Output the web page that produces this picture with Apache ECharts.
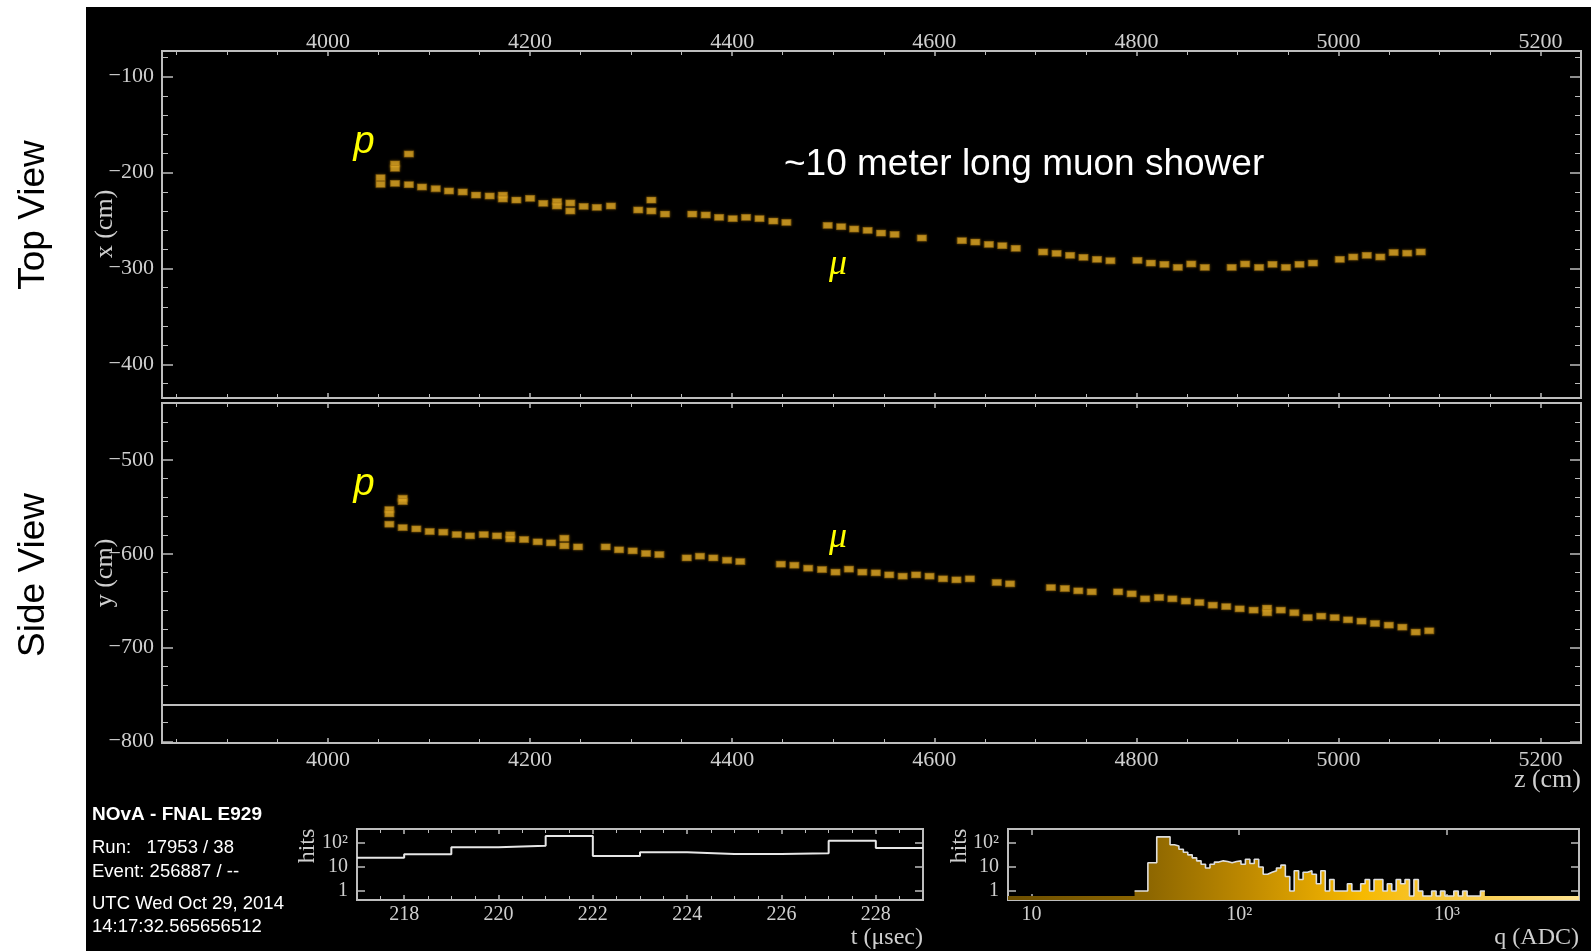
<!DOCTYPE html>
<html>
<head>
<meta charset="utf-8">
<title>NOvA event display</title>
<script src="https://cdn.jsdelivr.net/npm/echarts@6/dist/echarts.min.js"></script>
<style>
  html, body { margin: 0; padding: 0; background: #fff; }
  #panel { position: absolute; left: 86px; top: 7px; width: 1505px; height: 944px; background: #000; }
  #chart { position: absolute; left: 0; top: 0; width: 1591px; height: 951px; }
</style>
</head>
<body>
<div id="panel"></div>
<div id="chart"></div>
<script>
// ---- Top view (x vs z) hits, cm ----
const topZ = [
  4052, 4052, 4066.3, 4066.3, 4066.3, 4080, 4080, 4093, 4106.6, 4119.7,
  4133.3, 4146.5, 4160, 4173, 4173, 4186.4, 4200, 4213, 4226.6, 4226.6,
  4239.8, 4239.8, 4253, 4266, 4280, 4307, 4320, 4320, 4333.5, 4360.5,
  4373.8, 4387, 4400.5, 4413.7, 4427, 4440.7, 4453.6, 4494.5, 4507.8, 4520.7,
  4534, 4547.3, 4560.7, 4587.7, 4627.3, 4640.6, 4654, 4667.3, 4680.6, 4707.7,
  4721, 4734.4, 4747.6, 4761, 4774.3, 4801, 4814.3, 4827.7, 4841, 4854.3,
  4867.7, 4894.3, 4907.6, 4921.4, 4934.7, 4948, 4961.4, 4974.7, 5001.3, 5014.6,
  5028, 5041.4, 5054.6, 5068, 5081.4
];
const topX = [
  -205.3, -212.2, -191, -195.5, -211.2, -180.6, -212.6, -215, -216.8, -219.2,
  -220.2, -223.4, -224.4, -223.4, -227.5, -228.6, -226.8, -232, -230.3, -234.8,
  -231.7, -240, -235.2, -236.2, -234.8, -239, -228.6, -240, -243.2, -243.2,
  -244.2, -246.6, -248, -246.6, -248, -250.5, -251.9, -255, -256.4, -258.8,
  -260.2, -263, -264.4, -268.2, -271, -272.4, -274.8, -276.2, -278.9, -282.8,
  -284.2, -286.2, -288.3, -290.4, -291.9, -291.5, -294.3, -295.6, -298.8, -295.3,
  -298.8, -298.8, -295.3, -298.8, -295.6, -298.8, -295.6, -294.3, -290.4, -288,
  -286.2, -288, -283.3, -284, -282.8
];

// ---- Side view (y vs z) hits, cm ----
const sideZ = [
  4060.7, 4060.7, 4060.7, 4073.9, 4073.9, 4073.9, 4087.4, 4100.6, 4114.1, 4127.4,
  4140.5, 4154.1, 4167.2, 4180.4, 4180.4, 4194, 4207.5, 4220.7, 4233.9, 4233.9,
  4247.4, 4274.8, 4288, 4301.5, 4314.7, 4327.9, 4355, 4368.1, 4381.3, 4394.9,
  4408, 4448.1, 4461.5, 4475.2, 4488.9, 4502.2, 4515.5, 4528.8, 4542.1, 4555.4,
  4568.7, 4582, 4595.3, 4608.6, 4621.9, 4635.2, 4661.8, 4675, 4715.4, 4729.2,
  4742.5, 4755.8, 4781.9, 4795.3, 4808.6, 4822.4, 4835.6, 4849, 4862.3, 4875.6,
  4888.9, 4902.2, 4916, 4929.3, 4929.3, 4942.9, 4956.3, 4969.5, 4982.9, 4996.2,
  5009.4, 5022.8, 5036.1, 5049.8, 5063.2, 5076.4, 5089.8
];
const sideY = [
  -552.9, -557.5, -568.5, -540.8, -544.4, -572.1, -573.5, -576.3, -577, -579.5,
  -580.9, -579.5, -580.9, -579.9, -584.1, -584.8, -587.3, -588.4, -583.4, -591.6,
  -592.7, -592.7, -595.8, -596.9, -599.7, -600.8, -604.4, -602.6, -604.4, -606.9,
  -608.3, -611.1, -612.2, -615.4, -616.8, -619.6, -616.4, -619.6, -620.3, -622.5,
  -623.9, -622.5, -623.9, -626.7, -627.8, -626.7, -630.6, -632, -636, -637,
  -639.5, -640.6, -640.6, -642.7, -648, -646.6, -648, -650.5, -652, -654.8,
  -656.3, -658.7, -660.1, -657.9, -662.9, -660.1, -662.9, -668, -666.5, -668,
  -670.4, -671.8, -674.3, -676.1, -678.2, -683.5, -682.1
];
const detectorEdgeY = -761;

// ---- Hit time histogram (1 µs bins) ----
const tEdges = [217, 218, 219, 220, 221, 222, 223, 224, 225, 226, 227, 228, 229];
const tCounts = [24, 34, 66, 77, 195, 29, 41, 35, 35, 37, 125, 62];

// ---- Hit charge histogram (log-spaced bins starting at 10^qLogStart ADC) ----
const qLogStart = 1.496;
const qLogStep = 0.02135;
const qCounts = [
  1, 1, 1, 15, 15, 180, 180, 180, 85, 75,
  55, 41, 32, 24, 18, 13, 9, 13, 16, 18,
  17, 15, 17, 18, 13, 21, 14, 21, 10, 5,
  6, 7, 9, 12, 4, 1, 7, 3, 6, 7,
  5, 2, 7, 1, 3, 1, 1, 1, 2, 1,
  1, 2, 3, 1, 3, 3, 1, 2, 1, 3,
  2, 3, 0, 3, 1, 0, 0, 1, 0, 1,
  0, 0, 1, 0, 1, 0, 0, 0, 1
];
const qFloor = 0.62;

// ---- Axis ranges and tick labels ----
const zRange = [3835.7, 5240];
const topXRange = [-435, -73.2];
const sideYRange = [-801.7, -439.3];
const tRange = [217, 229];
const hitsRange = [0.42, 383];
const qRange = [7.7, 4325];
const decadeLabels = ['1', '10', '10\u00b2', '10\u00b3'];

// ---- Styling ----
const SERIF = '"Liberation Serif", "DejaVu Serif", serif';
const SANS = '"Liberation Sans", Arial, sans-serif';
const FRAME = '#bdbdbd';
const LABEL = '#cfcfcf';
const HIT = '#d9a425';

const minusFmt = v => String(v).replace('-', '\u2212');
const decadeFmt = v => {
  const e = Math.log10(v);
  const k = Math.round(e);
  return Math.abs(e - k) < 1e-6 && k >= 0 && k < decadeLabels.length ? decadeLabels[k] : '';
};

function axis(o) {
  const a = {
    gridIndex: o.grid,
    type: o.log ? 'log' : 'value',
    position: o.pos,
    min: o.range[0],
    max: o.range[1],
    axisLine: { show: false },
    splitLine: { show: false },
    axisTick: { show: true, inside: true, length: o.tick || 6, lineStyle: { color: FRAME, width: 1.5 } },
    axisLabel: o.labels ? {
      show: true, color: LABEL, fontFamily: SERIF, fontSize: o.fontSize || 20,
      margin: o.margin, formatter: o.fmt, showMinLabel: false, showMaxLabel: false
    } : { show: false }
  };
  if (o.log) {
    a.logBase = 10;
    a.splitNumber = 3;
  } else {
    a.minInterval = o.step;
    a.maxInterval = o.step;
    a.minorTick = { show: true, splitNumber: o.minor, length: o.minorLen || 4, lineStyle: { color: FRAME, width: 1 } };
  }
  return a;
}

const xAxes = [
  axis({ grid: 0, pos: 'top', range: zRange, step: 200, minor: 4, tick: 5, labels: true, fontSize: 22, margin: -2, fmt: minusFmt }),
  axis({ grid: 0, pos: 'bottom', range: zRange, step: 200, minor: 4, tick: 5 }),
  axis({ grid: 1, pos: 'bottom', range: zRange, step: 200, minor: 4, tick: 5, labels: true, fontSize: 22, margin: 6, fmt: minusFmt }),
  axis({ grid: 1, pos: 'top', range: zRange, step: 200, minor: 4, tick: 5 }),
  axis({ grid: 2, pos: 'bottom', range: tRange, step: 2, minor: 4, tick: 5, labels: true, fontSize: 20, margin: 5, fmt: v => String(v) }),
  axis({ grid: 2, pos: 'top', range: tRange, step: 2, minor: 4, tick: 5 }),
  axis({ grid: 3, pos: 'bottom', range: qRange, log: true, tick: 6, labels: true, fontSize: 20, margin: 5, fmt: decadeFmt }),
  axis({ grid: 3, pos: 'top', range: qRange, log: true, tick: 6 })
];
const yAxes = [
  axis({ grid: 0, pos: 'left', range: topXRange, step: 100, minor: 5, tick: 11, minorLen: 6, labels: true, fontSize: 22, margin: 8, fmt: minusFmt }),
  axis({ grid: 0, pos: 'right', range: topXRange, step: 100, minor: 5, tick: 11, minorLen: 6 }),
  axis({ grid: 1, pos: 'left', range: sideYRange, step: 100, minor: 5, tick: 11, minorLen: 6, labels: true, fontSize: 22, margin: 8, fmt: minusFmt }),
  axis({ grid: 1, pos: 'right', range: sideYRange, step: 100, minor: 5, tick: 11, minorLen: 6 }),
  axis({ grid: 2, pos: 'left', range: hitsRange, log: true, tick: 8, labels: true, fontSize: 20, margin: 9, fmt: decadeFmt }),
  axis({ grid: 2, pos: 'right', range: hitsRange, log: true, tick: 8 }),
  axis({ grid: 3, pos: 'left', range: hitsRange, log: true, tick: 8, labels: true, fontSize: 20, margin: 9, fmt: decadeFmt }),
  axis({ grid: 3, pos: 'right', range: hitsRange, log: true, tick: 8 })
];

const frame = { show: true, borderColor: FRAME, borderWidth: 2, backgroundColor: 'transparent' };
const grids = [
  Object.assign({ left: 162, top: 51, width: 1419, height: 347 }, frame),
  Object.assign({ left: 162, top: 403, width: 1419, height: 340 }, frame),
  Object.assign({ left: 357, top: 829, width: 566, height: 71 }, frame),
  Object.assign({ left: 1008, top: 829, width: 571, height: 71 }, frame)
];

// step outlines built from bin edges and contents
const tLine = [];
tCounts.forEach((c, i) => { tLine.push([tEdges[i], c], [tEdges[i + 1], c]); });

const qLine = [];
qCounts.forEach((c, i) => {
  const lo = Math.pow(10, qLogStart + i * qLogStep);
  const hi = Math.pow(10, qLogStart + (i + 1) * qLogStep);
  const v = c > 0 ? c : qFloor;
  qLine.push([lo, v], [hi, v]);
});

// charge colour scale spanning the charge histogram frame
const qGrad = () => new echarts.graphic.LinearGradient(1008, 0, 1579, 0, [
  { offset: 0.00, color: '#6c4e00' },
  { offset: 0.25, color: '#8e6700' },
  { offset: 0.42, color: '#bf8a00' },
  { offset: 0.54, color: '#e2a600' },
  { offset: 0.62, color: '#f6b900' },
  { offset: 0.76, color: '#f8c73a' },
  { offset: 1.00, color: '#fde290' }
], true);

const hitStyle = { color: HIT, borderColor: 'rgba(150,105,12,0.7)', borderWidth: 1, shadowBlur: 3, shadowColor: 'rgba(220,160,30,0.45)' };

function txt(x, y, text, font, fill) {
  return {
    type: 'text', x: x, y: y, silent: true,
    style: { text: text, font: font, fill: fill, align: 'left', verticalAlign: 'middle', textAlign: 'left', textVerticalAlign: 'middle' }
  };
}
function ctxt(x, y, text, font, fill, rot) {
  return {
    type: 'text', x: x, y: y, rotation: rot || 0, silent: true,
    style: { text: text, font: font, fill: fill, align: 'center', verticalAlign: 'middle', textAlign: 'center', textVerticalAlign: 'middle' }
  };
}
function rtxt(x, y, text, font, fill) {
  return {
    type: 'text', x: x, y: y, silent: true,
    style: { text: text, font: font, fill: fill, align: 'right', verticalAlign: 'middle', textAlign: 'right', textVerticalAlign: 'middle' }
  };
}

const R90 = Math.PI / 2;
const graphics = [
  ctxt(34, 215, 'Top View', '37px ' + SANS, '#000', R90),
  ctxt(34, 575, 'Side View', '37px ' + SANS, '#000', R90),
  txt(784, 165, '~10 meter long muon shower', '37px ' + SANS, '#fff'),
  ctxt(364, 142, 'p', 'italic 38px ' + SANS, '#ffff00'),
  ctxt(364, 484, 'p', 'italic 38px ' + SANS, '#ffff00'),
  ctxt(838, 265, '\u03bc', 'italic 36px ' + SERIF, '#ffff00'),
  ctxt(838, 538, '\u03bc', 'italic 36px ' + SERIF, '#ffff00'),
  ctxt(105, 224, 'x (cm)', '26px ' + SERIF, LABEL, R90),
  ctxt(105, 573, 'y (cm)', '26px ' + SERIF, LABEL, R90),
  rtxt(1581, 780, 'z (cm)', '26px ' + SERIF, LABEL),
  ctxt(308, 846, 'hits', '24px ' + SERIF, LABEL, R90),
  ctxt(960, 846, 'hits', '24px ' + SERIF, LABEL, R90),
  rtxt(923, 938, 't (\u03bcsec)', '24px ' + SERIF, LABEL),
  rtxt(1579, 938, 'q (ADC)', '24px ' + SERIF, LABEL),
  txt(92, 815, 'NOvA - FNAL E929', 'bold 19px ' + SANS, '#fff'),
  txt(92, 848, 'Run:   17953 / 38', '18.5px ' + SANS, '#fff'),
  txt(92, 872, 'Event: 256887 / --', '18.5px ' + SANS, '#fff'),
  txt(92, 904, 'UTC Wed Oct 29, 2014', '18.5px ' + SANS, '#fff'),
  txt(92, 927, '14:17:32.565656512', '18.5px ' + SANS, '#fff')
];

const chart = echarts.init(document.getElementById('chart'), null, { renderer: 'canvas' });
chart.setOption({
  backgroundColor: 'transparent',
  animation: false,
  grid: grids,
  xAxis: xAxes,
  yAxis: yAxes,
  graphic: graphics,
  series: [
    {
      name: 'Top view hits', type: 'scatter', xAxisIndex: 0, yAxisIndex: 0,
      symbol: 'rect', symbolSize: [9, 6], itemStyle: hitStyle,
      data: topZ.map((z, i) => [z, topX[i]])
    },
    {
      name: 'Side view hits', type: 'scatter', xAxisIndex: 2, yAxisIndex: 2,
      symbol: 'rect', symbolSize: [9, 6], itemStyle: hitStyle,
      data: sideZ.map((z, i) => [z, sideY[i]]),
      markLine: {
        silent: true, symbol: 'none', label: { show: false },
        lineStyle: { color: FRAME, width: 2, type: 'solid' },
        data: [{ yAxis: detectorEdgeY }]
      }
    },
    {
      name: 'Hit times', type: 'line', xAxisIndex: 4, yAxisIndex: 4,
      showSymbol: false, symbol: 'none',
      lineStyle: { color: '#e6e6e6', width: 2 },
      data: tLine
    },
    {
      name: 'Charge scale', type: 'line', xAxisIndex: 6, yAxisIndex: 6, z: 1,
      showSymbol: false, symbol: 'none',
      lineStyle: { width: 0 },
      areaStyle: { origin: 'start', color: qGrad(), opacity: 1 },
      data: [[qRange[0], qFloor], [qRange[1], qFloor]]
    },
    {
      name: 'Hit charges', type: 'line', xAxisIndex: 6, yAxisIndex: 6, z: 2,
      showSymbol: false, symbol: 'none',
      lineStyle: { color: '#dedede', width: 1.6 },
      areaStyle: { origin: 'start', color: qGrad(), opacity: 1 },
      data: qLine
    }
  ]
});
</script>
</body>
</html>
